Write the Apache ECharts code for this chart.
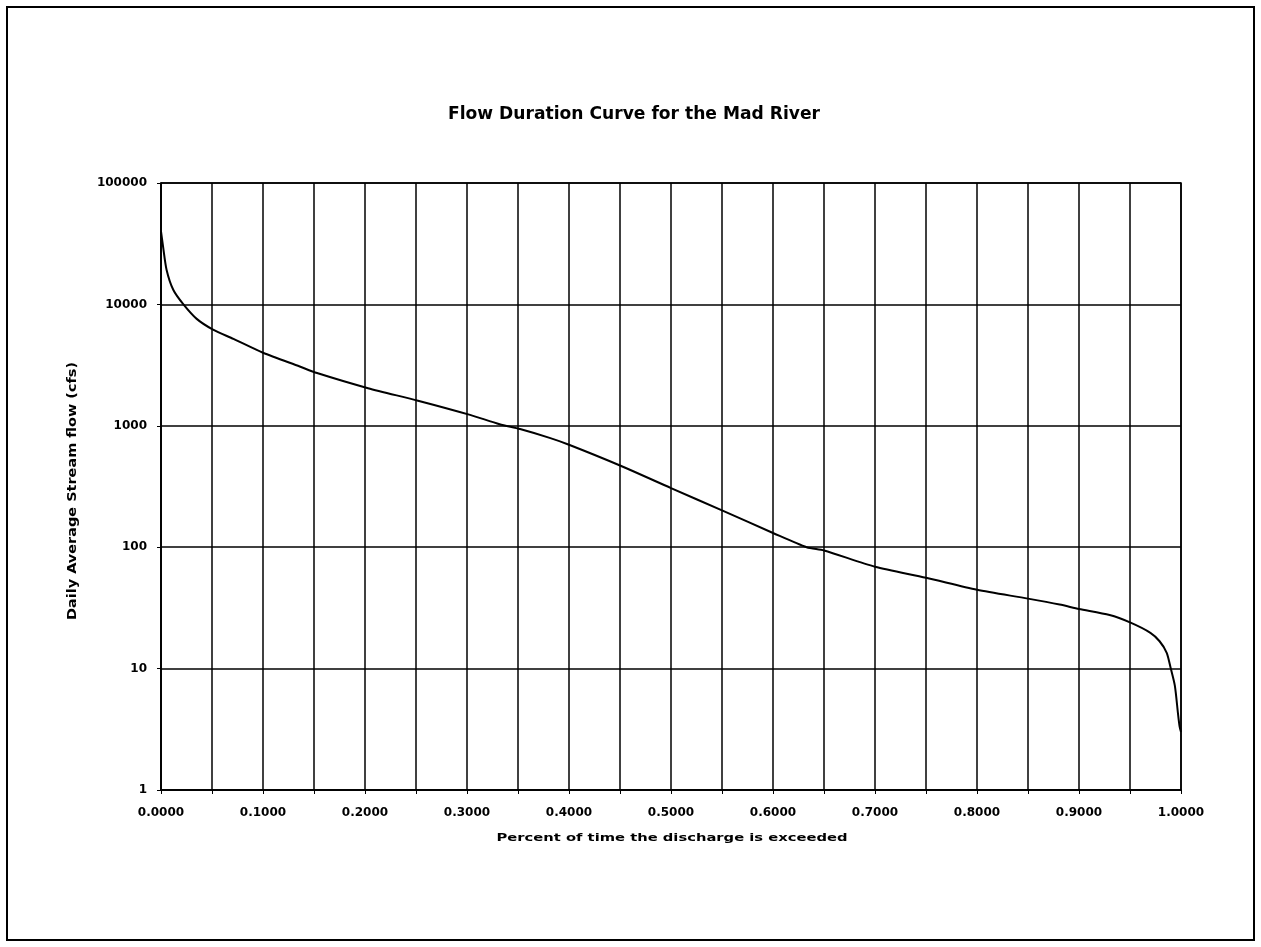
<!DOCTYPE html>
<html>
<head>
<meta charset="utf-8">
<script src="https://cdn.jsdelivr.net/npm/echarts@6/dist/echarts.min.js"></script>
<style>
html,body{margin:0;padding:0;background:#fff;}
#chart{width:1261px;height:947px;}
</style>
</head>
<body>
<div id="chart"></div>
<script>
const titleText = 'Flow Duration Curve for the Mad River';
const xAxisTitle = 'Percent of time the discharge is exceeded';
const yAxisTitle = 'Daily Average Stream flow (cfs)';

const exceedance = [0, 0.002, 0.0055, 0.012, 0.022, 0.035, 0.051, 0.071, 0.1, 0.136, 0.153, 0.203, 0.252, 0.303, 0.332, 0.352, 0.381, 0.40, 0.45, 0.50, 0.55, 0.60, 0.633, 0.65, 0.70, 0.75, 0.80, 0.85, 0.881, 0.90, 0.93, 0.95, 0.97, 0.979, 0.986, 0.990, 0.994, 0.997, 0.9986, 1.0];
const flow = [40000, 30000, 19200, 13200, 10000, 7600, 6200, 5200, 4000, 3080, 2720, 2040, 1610, 1230, 1030, 940, 795, 698, 471, 307, 201, 131, 100, 94, 69, 56, 44.6, 37.7, 33.7, 31, 27.6, 24, 19.7, 16.8, 13.5, 10, 7.2, 4.3, 3.35, 3];

const data = exceedance.map((x, i) => [x, flow[i]]);

const font = '"DejaVu Sans", "Liberation Sans", Arial, sans-serif';
const mctx = document.createElement('canvas').getContext('2d');
function textWidth(str, size) {
  mctx.font = 'bold ' + size + 'px ' + font;
  return mctx.measureText(str).width;
}
function stretchedText(str, size, cx, cy, targetLen, rot) {
  const w = textWidth(str, size);
  return {
    type: 'text', x: cx, y: cy, rotation: rot || 0,
    scaleX: targetLen / w, scaleY: 1, silent: true,
    style: {text: str, fontFamily: font, fontSize: size, fontWeight: 'bold',
            fill: '#000', align: 'center', verticalAlign: 'middle'}
  };
}

const chart = echarts.init(document.getElementById('chart'), null, {renderer: 'canvas'});

chart.setOption({
  backgroundColor: '#fff',
  animation: false,
  graphic: [
    {type: 'rect', shape: {x: 7, y: 7, width: 1247, height: 933},
     style: {fill: 'none', stroke: '#000', lineWidth: 2}, silent: true},
    stretchedText(titleText, 17, 634, 115, 372, 0),
    stretchedText(yAxisTitle, 12, 72.5, 491, 258, Math.PI / 2),
    stretchedText(xAxisTitle, 11, 672, 838, 351, 0)
  ],
  grid: {left: 161, right: 80, top: 183, bottom: 157, show: true, borderColor: '#000', borderWidth: 1.5},
  xAxis: {
    type: 'value', min: 0, max: 1, interval: 0.05,
    axisLine: {lineStyle: {color: '#000', width: 1.5}},
    axisTick: {show: true, length: 4, lineStyle: {color: '#000'}},
    axisLabel: {
      fontFamily: font, fontSize: 12, fontWeight: 'bold', color: '#000', margin: 17,
      formatter: function (v) {
        const r = Math.round(v * 100);
        return r % 10 === 0 ? (r / 100).toFixed(4) : '';
      }
    },
    splitLine: {show: true, lineStyle: {color: '#000', width: 1.5}}
  },
  yAxis: {
    type: 'log', logBase: 10, min: 1, max: 100000,
    axisLine: {lineStyle: {color: '#000', width: 1.5}},
    axisTick: {show: true, length: 4, lineStyle: {color: '#000'}},
    axisLabel: {fontFamily: font, fontSize: 12, fontWeight: 'bold', color: '#000', margin: 14,
      formatter: function (v) { return String(Math.round(v)); }},
    splitLine: {show: true, lineStyle: {color: '#000', width: 1.5}}
  },
  series: [{
    type: 'line', data: data, showSymbol: false, symbol: 'none',
    smooth: 0.25,
    lineStyle: {color: '#000', width: 2}
  }]
});
</script>
</body>
</html>
